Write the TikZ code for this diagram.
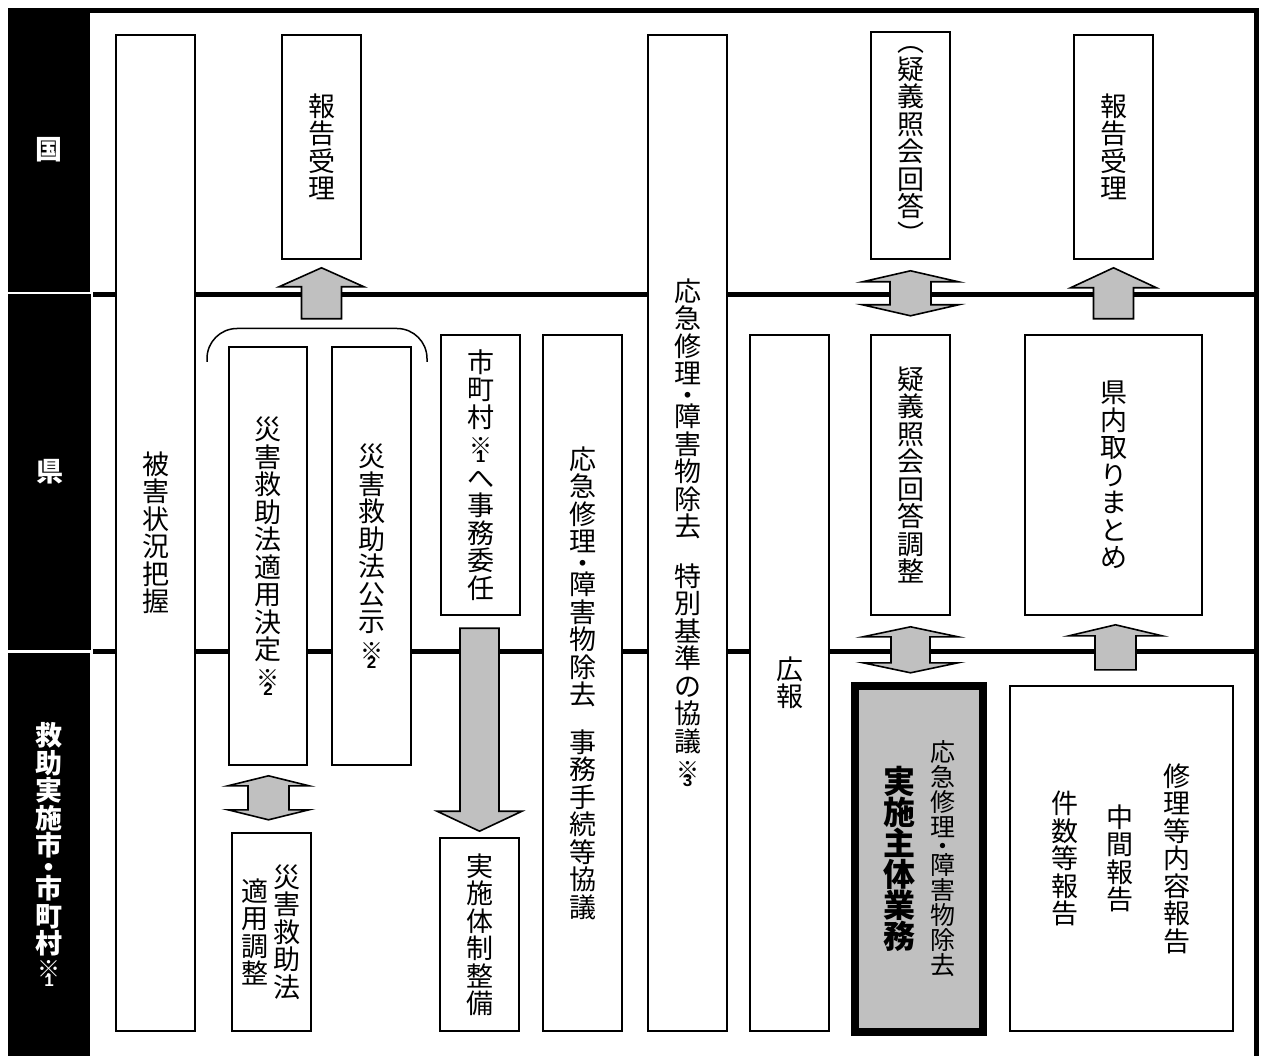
\documentclass[tikz,border=0pt]{standalone}
\usepackage{fontspec}
\newfontfamily\jp{Noto Sans CJK JP}
\newfontfamily\dg{Liberation Sans}
\usetikzlibrary{calc}
\definecolor{boxgray}{HTML}{C0C0C0}
\newcommand\tightlines{\lineskiplimit=-100pt\relax\lineskip=0pt\relax}
\newcommand\kome[1]{\vbox{\offinterlineskip\halign{\hfil##\hfil\cr\jp\bfseries\fontsize{23}{23}\selectfont ※\cr\noalign{\kern-3pt}\dg\bfseries\fontsize{17}{17}\selectfont #1\cr}}}
\newcommand\arrUp[5]{\draw[blk] (#1) -- ++(#2,#3) -- ++(-#2+#4,0) -- ++(0,#5-#3) -- ++(-2*#4,0) -- ++(0,-#5+#3) -- ++(-#2+#4,0) -- cycle;}
\newcommand\arrDbl[5]{\draw[blk] (#1) -- ++(#2,#3) -- ++(-#2+#4,0) -- ++(0,#5-2*#3) -- ++(#2-#4,0) -- ++(-#2,#3) -- ++(-#2,-#3) -- ++(#2-#4,0) -- ++(0,-#5+2*#3) -- ++(-#2+#4,0) -- cycle;}
\begin{document}
\begin{tikzpicture}[x=1pt,y=-1pt,
  vt/.style={align=center, inner sep=0pt, font=\jp\fontsize{27}{27.5}\selectfont\tightlines},
  vts/.style={align=center, inner sep=0pt, font=\jp\fontsize{25}{25}\selectfont\tightlines},
  vtb/.style={align=center, inner sep=0pt, font=\jp\bfseries\fontsize{32}{31}\selectfont\tightlines},
  box/.style={vt, draw, fill=white, line width=1.6pt},
  cell/.style={fill=black, text=white, align=center, inner sep=0pt, font=\jp\bfseries\fontsize{27}{27.5}\selectfont\tightlines},
  blk/.style={draw, fill=boxgray, line width=1.6pt, line join=miter},
  sep/.style={line width=5pt}]
\useasboundingbox (0,0) rectangle (1261,1056);
\fill[white] (0,0) rectangle (1261,1056);
% left label cells
\node[cell, minimum width=82, minimum height=284] (kuni) at (49,150) {国};
\node[cell, minimum width=83, minimum height=356] (ken) at (49.5,472) {県};
\node[cell, minimum width=82, minimum height=403] (shi) at (49,854.5) {救\\助\\実\\施\\市\\[-6pt]・\\[-6pt]市\\町\\村\\[5pt]\kome{1}};
% frame and separators
\draw[line width=4.5pt] (90,10.5) -| (1256.5,1056);
\draw[sep] (93,295) -- (1256,295);
\draw[sep] (93,651) -- (1256,651);
% boxes
\node[box, minimum width=79, minimum height=996] (b1) at (155.5,533) {被\\害\\状\\況\\把\\握};
\node[box, minimum width=79, minimum height=224] (b2) at (321.5,147) {報\\告\\受\\理};
\node[box, minimum width=78, minimum height=418] (b3) at (268,556) {災\\害\\救\\助\\法\\適\\用\\決\\定\\[8pt]\kome{2}};
\node[box, minimum width=79, minimum height=418] (b4) at (371.5,556) {災\\害\\救\\助\\法\\公\\示\\[9pt]\kome{2}};
\node[box, minimum width=79, minimum height=280] (b5) at (480.5,475) {市\\町\\村\\[8pt]\kome{1}\\[-2pt]へ\\事\\務\\委\\任};
\node[box, minimum width=79, minimum height=193] (b6) at (479.5,934.5) {実\\施\\体\\制\\整\\備};
\node[box, minimum width=79, minimum height=696] (b7) at (582.5,683) {応\\急\\修\\理\\[-6pt]・\\[-6pt]障\\害\\物\\除\\去\\[20pt]事\\務\\手\\続\\等\\協\\議};
\node[box, minimum width=79, minimum height=996] (b8) at (687.5,533) {応\\急\\修\\理\\[-6pt]・\\[-6pt]障\\害\\物\\除\\去\\[22pt]特\\別\\基\\準\\の\\協\\議\\[8pt]\kome{3}};
\node[box, minimum width=79, minimum height=696] (b9) at (789.5,683) {広\\報};
\node[box, minimum width=79, minimum height=227] (b10) at (910.5,145.5) {︵\\疑\\義\\照\\会\\回\\答\\︶};
\node[box, minimum width=79, minimum height=280] (b11) at (910.5,475) {疑\\義\\照\\会\\回\\答\\調\\整};
\node[box, minimum width=79, minimum height=224] (b12) at (1113.5,147) {報\\告\\受\\理};
\node[box, minimum width=177, minimum height=280] (b13) at (1113.5,475) {県\\内\\取\\り\\ま\\と\\め};
\node[draw, fill=boxgray, line width=7.5pt, minimum width=128, minimum height=346, inner sep=0pt] (b14) at (919,859) {};
\node[vtb] (t14a) at (899,859) {実\\施\\主\\体\\業\\務};
\node[vts] (t14b) at (942.5,859) {応\\急\\修\\理\\[-6pt]・\\[-6pt]障\\害\\物\\除\\去};
\node[box, minimum width=223, minimum height=345] (b15) at (1121.5,858.5) {};
\node[vt] (t15a) at (1065,858.5) {件\\数\\等\\報\\告};
\node[vt] (t15b) at (1120,858.5) {中\\間\\報\\告};
\node[vt] (t15c) at (1177,858.5) {修\\理\\等\\内\\容\\報\\告};
\node[box, minimum width=79, minimum height=198] (b16) at (271.5,932) {};
\node[vt] (t16a) at (287,932) {災\\害\\救\\助\\法};
\node[vt] (t16b) at (255,932) {適\\用\\調\\整};
% brace
\draw[line width=1.5pt, rounded corners=30pt] (207,362) |- (317,328.5) -| (427,362);
% block arrows
\coordinate (tA) at ($(b2.south)+(0,8)$);
\coordinate (tB) at ($(b12.south)+(0,8)$);
\coordinate (tC) at ($(b13.south)+(2,9)$);
\coordinate (tD1) at ($(b10.south)+(0,11)$);
\coordinate (tD2) at ($(b11.south)+(0,11)$);
\coordinate (tD3) at ($(b3.south)+(0.5,10)$);
\coordinate (tE) at ($(b6.north)+(0,-6)$);
\arrUp{tA}{42.5}{19}{20}{51}
\arrUp{tB}{43}{20}{20}{51}
\arrUp{tC}{46.5}{11}{20.5}{45}
\arrUp{tE}{42.5}{-20}{19.5}{-203}
\arrDbl{tD1}{48}{11}{20.5}{45}
\arrDbl{tD2}{47.5}{10}{19.5}{46}
\arrDbl{tD3}{40.5}{10}{20.5}{44}
\end{tikzpicture}
\end{document}
